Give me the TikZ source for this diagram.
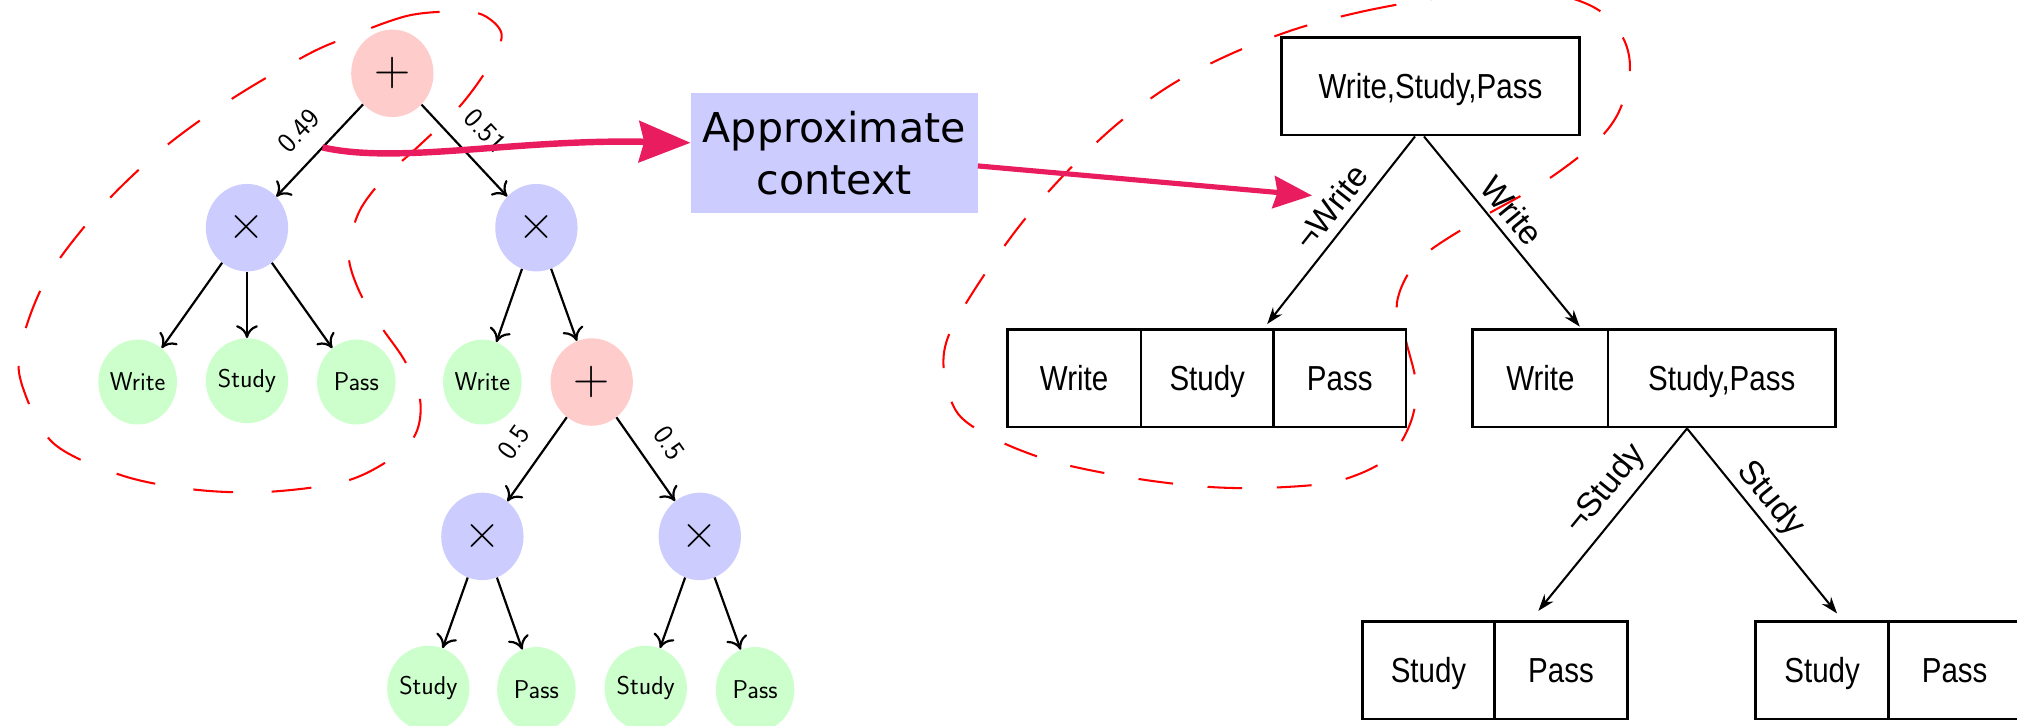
\documentclass[tikz,border=0pt]{standalone}
\usepackage{fontspec}
\newfontfamily\treefont[FakeStretch=0.85]{Liberation Sans}
\newfontfamily\branchfont{Liberation Sans}
\newfontfamily\ctxfont{DejaVu Sans}
\usetikzlibrary{arrows.meta,shapes.geometric,calc}

\definecolor{sumpink}{RGB}{255,204,204}
\definecolor{prodblue}{RGB}{204,204,255}
\definecolor{leafgreen}{RGB}{204,255,204}
\definecolor{ctxpink}{RGB}{233,28,96}
\definecolor{loopred}{RGB}{255,0,0}

\begin{document}
\begin{tikzpicture}[x=1pt,y=-1pt,
  spn/.style={ellipse, inner sep=0pt, draw=none},
  sumnode/.style={spn, fill=sumpink, minimum width=64pt, minimum height=68pt,
    font=\rmfamily\fontsize{39}{40}\selectfont},
  prodnode/.style={spn, fill=prodblue, minimum width=64pt, minimum height=68pt,
    font=\rmfamily\fontsize{39}{40}\selectfont},
  leaf/.style={spn, fill=leafgreen, minimum width=61pt, minimum height=66pt,
    font=\sffamily\fontsize{20}{24}\selectfont},
  spnedge/.style={line width=1.7pt, -{To[length=10pt,width=17pt]}},
  weight/.style={font=\sffamily\fontsize{22}{24}\selectfont, sloped, above=12pt, inner sep=2pt},
  cell/.style={draw, line width=2.2pt, minimum height=76pt, inner sep=0pt,
    text height=19.4pt, text depth=0pt, font=\treefont\fontsize{27}{30}\selectfont},
  treeedge/.style={line width=1.6pt, -{Stealth[length=13pt,width=9pt]}},
  branch/.style={font=\branchfont\fontsize{26}{28}\selectfont, sloped, inner sep=2pt},
  ctxarrow/.style={draw=ctxpink, line width=5pt},
  group/.style={draw=loopred, line width=1.6pt},
]
\useasboundingbox (0,0) rectangle (1568,564);

% dashed groupings
\draw[group, dash pattern=on 31pt off 30pt] plot[smooth cycle, tension=0.55] coordinates {
  (360,9) (318,12) (270,29) (238,43) (180,77) (126,116) (77,163) (36,217)
  (16,270) (18,302) (42,345) (96,370) (155,381) (214,382) (275,372)
  (318,345) (327,315) (316,283) (297,255) (280,228) (271,198) (279,165)
  (299,138) (325,114) (358,82) (381,50) (390,27) (378,13)};
\draw[group, dash pattern=on 27pt off 27pt] plot[smooth cycle, tension=0.55] coordinates {
  (1009,22) (1059,9) (1108,0) (1160,-6) (1210,-4) (1243,8) (1262,30)
  (1267,55) (1258,88) (1238,113) (1198,143) (1147,172) (1103,202)
  (1086,235) (1093,265) (1101,300) (1096,330) (1078,357) (1040,374)
  (992,379) (948,379) (904,375) (860,368) (816,358) (775,342) (745,322)
  (734,290) (737,262) (759,223) (793,175) (829,134) (869,96) (912,65) (959,41)};

% sum-product network
\node[sumnode]  (s1)  at (305,57)  {+};
\node[prodnode] (p1)  at (192,177) {×};
\node[prodnode] (p2)  at (417,177) {×};
\node[leaf]     (w1)  at (107,297) {Write};
\node[leaf]     (st1) at (192,296) {Study};
\node[leaf]     (pa1) at (277,297) {Pass};
\node[leaf]     (w2)  at (375,297) {Write};
\node[sumnode]  (s2)  at (460,297) {+};
\node[prodnode] (p3)  at (375,417) {×};
\node[prodnode] (p4)  at (544,417) {×};
\node[leaf]     (st3) at (333,535) {Study};
\node[leaf]     (pa3) at (417,536) {Pass};
\node[leaf]     (st4) at (502,535) {Study};
\node[leaf]     (pa4) at (587,536) {Pass};

\draw[spnedge] (s1) -- node[weight] {0.49} (p1);
\draw[spnedge] (s1) -- node[weight] {0.51} (p2);
\draw[spnedge] (p1) -- (w1);
\draw[spnedge] (p1) -- (st1);
\draw[spnedge] (p1) -- (pa1);
\draw[spnedge] (p2) -- (w2);
\draw[spnedge] (p2) -- (s2);
\draw[spnedge] (s2) -- node[weight] {0.5} (p3);
\draw[spnedge] (s2) -- node[weight] {0.5} (p4);
\draw[spnedge] (p3) -- (st3);
\draw[spnedge] (p3) -- (pa3);
\draw[spnedge] (p4) -- (st4);
\draw[spnedge] (p4) -- (pa4);

% context box
\node[fill=prodblue, minimum width=223pt, minimum height=93pt, inner sep=0pt,
  align=center, font=\ctxfont\fontsize{32}{40}\selectfont] (ctx) at (648.5,119)
  {Approximate\\context};

% decision tree
\node[cell, minimum width=232pt] (T) at (1112,67) {Write,Study,Pass};
\node[cell, minimum width=104pt] (L2a) at (835,294)    {Write};
\node[cell, minimum width=103pt] (L2b) at (938.5,294)  {Study};
\node[cell, minimum width=103pt] (L2c) at (1041.5,294) {Pass};
\node[cell, minimum width=105pt] (R2a) at (1197.5,294) {Write};
\node[cell, minimum width=177pt] (R2b) at (1338.5,294) {Study,Pass};
\node[cell, minimum width=103pt] (L3a) at (1110.5,521) {Study};
\node[cell, minimum width=103pt] (L3b) at (1213.5,521) {Pass};
\node[cell, minimum width=103pt] (R3a) at (1416.5,521) {Study};
\node[cell, minimum width=103pt] (R3b) at (1519.5,521) {Pass};

\draw[treeedge] ([xshift=-12pt]T.south) --
  node[branch, pos=0.45, above=5pt] {¬Write} ([shift={(-6pt,3pt)}]L2b.north east);
\draw[treeedge] ([xshift=-5pt]T.south) --
  node[branch, pos=0.46, above=4pt] {Write} ([shift={(-23pt,1pt)}]R2a.north east);
\draw[treeedge] ([xshift=-27pt]R2b.south) --
  node[branch, pos=0.42, above=4pt] {¬Study} ([shift={(35pt,7pt)}]L3b.north west);
\draw[treeedge] ([xshift=-27pt]R2b.south) --
  node[branch, pos=0.45, above=1pt] {Study} ([shift={(-41pt,5pt)}]R3a.north east);

% arrows through the context box
\coordinate (src) at ($(s1)!0.48!(p1)$);
\coordinate (ctxtip) at (1020,152);
\draw[ctxarrow, -{Stealth[length=40pt,width=32pt,inset=4pt,fill=ctxpink]}]
  (src) .. controls (310,128) and (400,108) .. ([yshift=8pt]ctx.west);
\draw[ctxarrow, line width=4pt, -{Stealth[length=30pt,width=25pt,inset=3pt,fill=ctxpink]}]
  ([yshift=-10pt]ctx.east) -- (ctxtip);
\end{tikzpicture}
\end{document}
